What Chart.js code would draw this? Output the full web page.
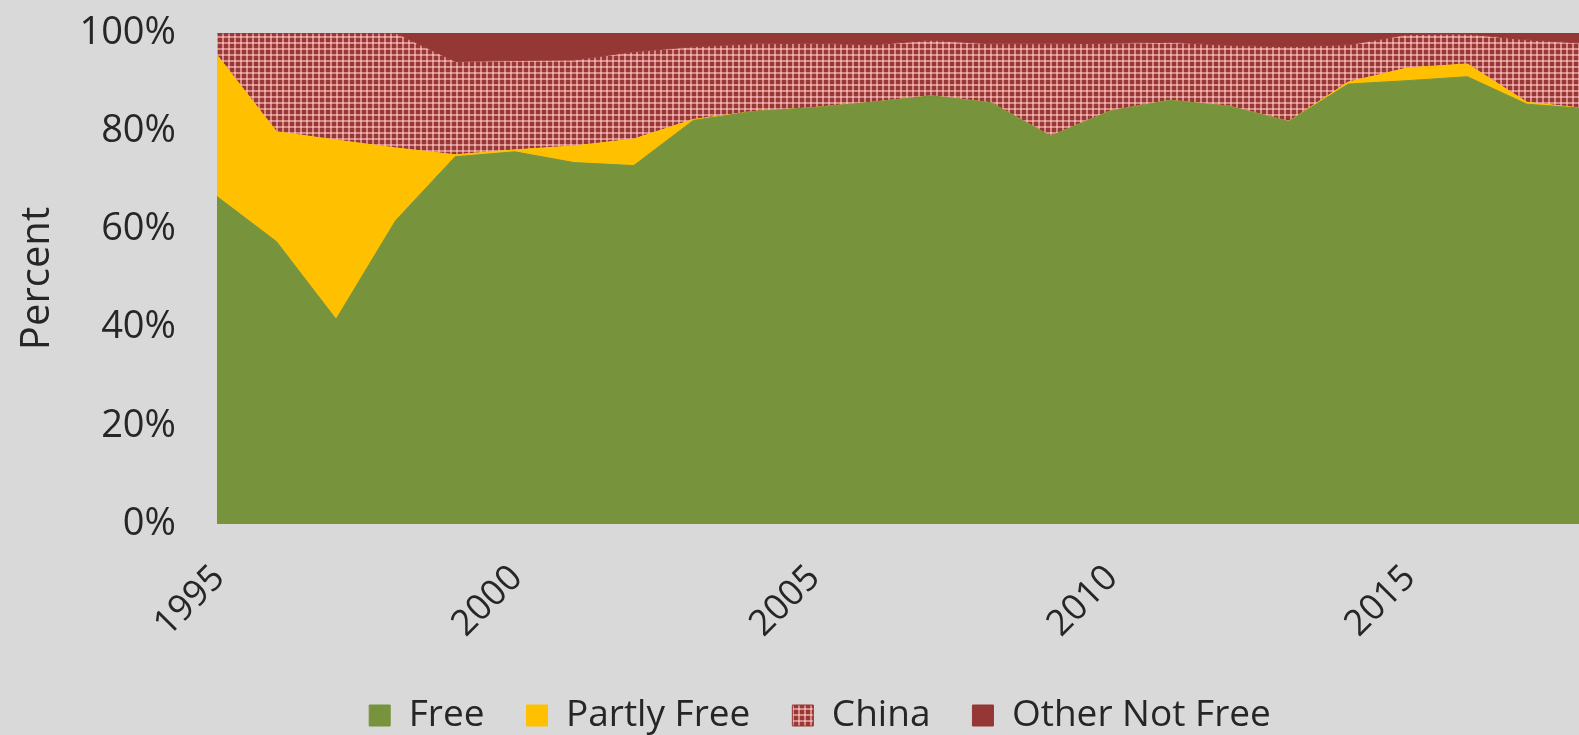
<!DOCTYPE html>
<html>
<head>
<meta charset="utf-8">
<script src="https://cdn.jsdelivr.net/npm/chart.js@4.4.1/dist/chart.umd.min.js"></script>
<style>
  html, body { margin: 0; padding: 0; background: #d9d9d9; overflow: hidden; }
  #wrap { position: relative; width: 1640px; height: 744px; }
</style>
</head>
<body>
<div id="wrap"><canvas id="chart"></canvas></div>
<script>
// ─── Data (share of total, %) ─────────────────────────────────────────────────
const years = [1995, 1996, 1997, 1998, 1999, 2000, 2001, 2002, 2003, 2004, 2005, 2006,
               2007, 2008, 2009, 2010, 2011, 2012, 2013, 2014, 2015, 2016, 2017, 2018];
const free =         [66.7, 57.5, 41.7, 61.8, 74.8, 75.8, 73.6, 73.0, 82.2, 84.0, 84.8, 85.9,
                      87.2, 85.8, 79.0, 84.1, 86.3, 85.1, 82.0, 89.6, 90.3, 91.1, 85.5, 84.6];
const partlyFree =   [28.8, 22.4, 36.5, 14.8, 0.4, 0.4, 3.4, 5.4, 0.2, 0, 0, 0,
                      0, 0, 0, 0, 0, 0, 0, 0.4, 2.6, 2.6, 0.4, 0];
const china =        [4.5, 20.1, 21.8, 23.4, 19.0, 18.2, 17.5, 17.8, 14.8, 13.8, 13.1, 11.7,
                      11.3, 12.0, 18.8, 13.8, 11.8, 12.4, 15.2, 7.6, 6.8, 6.1, 12.7, 13.3];
const otherNotFree = [0, 0, 0, 0, 5.8, 5.6, 5.5, 3.8, 2.8, 2.2, 2.1, 2.4,
                      1.5, 2.2, 2.2, 2.1, 1.9, 2.5, 2.8, 2.4, 0.3, 0.2, 1.4, 2.1];
const xTickStep = 5;
const yTickStep = 20;

// ─── China fill: dark red with a pink plaid grid ──────────────────────────────
function plaidPattern() {
  const c = document.createElement('canvas');
  c.width = 6; c.height = 6;
  const g = c.getContext('2d');
  g.fillStyle = '#963836';
  g.fillRect(0, 0, 6, 6);
  g.fillStyle = '#d98a88';
  g.fillRect(0, 0, 2, 6);
  g.fillRect(0, 0, 6, 2);
  g.fillStyle = '#efb5b2';
  g.fillRect(0, 0, 2, 2);
  return g.createPattern(c, 'repeat');
}

const pts = arr => years.map((yr, i) => ({ x: yr, y: arr[i] }));

Chart.defaults.font.family = "'Open Sans', sans-serif";
Chart.defaults.color = '#262626';

const chinaFill = plaidPattern();

const series = [
  { label: 'Free', data: pts(free), color: '#77933c', fill: 'origin' },
  { label: 'Partly Free', data: pts(partlyFree), color: '#ffc000', fill: '-1' },
  { label: 'China', data: pts(china), color: chinaFill, line: '#963836', fill: '-1' },
  { label: 'Other Not Free', data: pts(otherNotFree), color: '#953735', fill: '-1' }
];

new Chart(document.getElementById('chart'), {
  type: 'line',
  data: {
    datasets: series.map(s => ({
      label: s.label,
      data: s.data,
      backgroundColor: s.color,
      borderColor: s.line || s.color,
      borderWidth: 1,
      pointRadius: 0,
      tension: 0,
      fill: s.fill
    }))
  },
  options: {
    responsive: true,
    maintainAspectRatio: false,
    animation: false,
    layout: { padding: { top: 33, left: 0, right: 0, bottom: 0 } },
    plugins: {
      tooltip: { enabled: false },
      legend: {
        position: 'bottom',
        labels: { boxWidth: 21, boxHeight: 21, padding: 42, font: { size: 37 } }
      }
    },
    scales: {
      x: {
        type: 'linear',
        min: 1995,
        max: 2018.9,   // plot runs a little past the last year, cut off by the window
        grid: { display: false, drawTicks: false },
        border: { display: false },
        ticks: {
          stepSize: xTickStep,
          includeBounds: false,
          autoSkip: false,
          minRotation: 45,
          maxRotation: 45,
          labelOffset: 2,
          padding: 33,
          font: { size: 36 },
          callback: v => String(v)
        },
        afterFit: s => { s.height = 131; }
      },
      y: {
        stacked: true,
        min: 0,
        max: 100,
        // invisible tick marks give the gap between labels and plot
        grid: { display: false, drawTicks: true, tickLength: 41 },
        border: { display: false },
        ticks: { stepSize: yTickStep, padding: 0, font: { size: 38 }, callback: v => v + '%' },
        title: { display: true, text: 'Percent', font: { size: 40 }, padding: { top: 14 } },
        afterFit: s => { s.width = 217; }
      }
    }
  }
});
</script>
</body>
</html>
